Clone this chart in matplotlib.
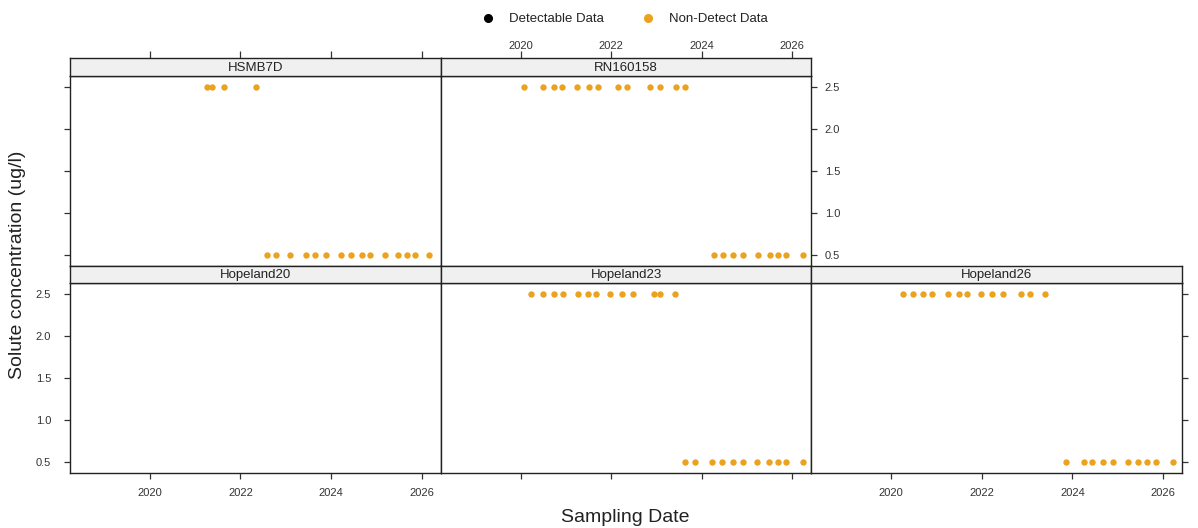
import matplotlib
matplotlib.use('Agg')
import matplotlib.pyplot as plt
from matplotlib.lines import Line2D

plt.rcParams['font.family'] = ['Liberation Sans', 'DejaVu Sans']

# sampling dates (decimal years) and concentrations (ug/l) per well
hsmb7d_t = [2021.26, 2021.37, 2021.64, 2022.35,
            2022.59, 2022.79, 2023.09, 2023.44, 2023.64, 2023.88, 2024.23, 2024.43,
            2024.68, 2024.87, 2025.19, 2025.48, 2025.67, 2025.85, 2026.16]
hsmb7d_c = [2.5] * 4 + [0.5] * 15

rn160158_t = [2020.07, 2020.49, 2020.73, 2020.91, 2021.25, 2021.52, 2021.70, 2022.15,
              2022.35, 2022.86, 2023.07, 2023.44, 2023.64,
              2024.26, 2024.47, 2024.69, 2024.91, 2025.24, 2025.50, 2025.69, 2025.87, 2026.24]
rn160158_c = [2.5] * 13 + [0.5] * 9

hopeland20_t = []
hopeland20_c = []

hopeland23_t = [2020.23, 2020.49, 2020.73, 2020.94, 2021.27, 2021.48, 2021.67, 2021.98,
                2022.23, 2022.49, 2022.94, 2023.07, 2023.40,
                2023.64, 2023.86, 2024.23, 2024.45, 2024.68, 2024.90, 2025.23, 2025.48,
                2025.69, 2025.85, 2026.24]
hopeland23_c = [2.5] * 13 + [0.5] * 11

hopeland26_t = [2020.25, 2020.48, 2020.71, 2020.91, 2021.25, 2021.50, 2021.68, 2021.98,
                2022.22, 2022.46, 2022.86, 2023.06, 2023.39,
                2023.86, 2024.25, 2024.43, 2024.68, 2024.90, 2025.23, 2025.45, 2025.65,
                2025.85, 2026.22]
hopeland26_c = [2.5] * 13 + [0.5] * 10

x_ticks = [2020, 2022, 2024, 2026]
y_ticks = [0.5, 1.0, 1.5, 2.0, 2.5]

ND_COL = '#EBA21E'
EDGE = '#222222'
TXT = '#333333'
XLIM = (2018.237, 2026.42)
W, H = 1198, 528

fig = plt.figure(figsize=(W / 100, H / 100), dpi=100)


def px_axes(x0, y0, x1, y1):
    return fig.add_axes([x0 / W, 1 - y1 / H, (x1 - x0) / W, (y1 - y0) / H])


col_x = [70, 440.7, 811.4, 1182]
rows = [(58.3, 75.7, 265.7), (266, 283, 473.3)]


def panel(row, col, name, t, c, left=None, right=None, top=None, bottom=None):
    strip_top, strip_bot, pan_bot = rows[row]
    x0, x1 = col_x[col], col_x[col + 1]
    ax = px_axes(x0, strip_bot, x1, pan_bot)
    ax.plot(t, c, 'o', color=ND_COL, markersize=4.6, markeredgewidth=0, clip_on=False)
    ax.set_xlim(*XLIM)
    ax.set_ylim(0.37, 2.63)
    ax.set_xticks(x_ticks)
    ax.set_xticklabels([str(v) for v in x_ticks])
    ax.set_yticks(y_ticks)
    ax.set_yticklabels([f'{v:.1f}' for v in y_ticks])
    ax.tick_params(direction='out', length=4.5, width=0.9, color=TXT,
                   labelsize=8, labelcolor=TXT, top=False, labeltop=False,
                   left=left is not None, labelleft=left == 'lab',
                   right=right is not None, labelright=right == 'lab',
                   bottom=bottom is not None, labelbottom=bottom == 'lab')
    ax.tick_params(axis='y', pad=5 if right == 'lab' else 9)
    ax.tick_params(axis='x', pad=6)
    for s in ax.spines.values():
        s.set_linewidth(1.0)
        s.set_color(EDGE)

    # strip with the well name; top axis of the first row hangs off it
    st = px_axes(x0, strip_top, x1, strip_bot)
    st.set_facecolor('#F0F0F0')
    st.set_xlim(*XLIM)
    st.set_yticks([])
    st.set_xticks(x_ticks)
    st.set_xticklabels([str(v) for v in x_ticks])
    st.tick_params(axis='x', bottom=False, labelbottom=False,
                   top=top is not None, labeltop=top == 'lab',
                   direction='out', length=5, width=0.9, color=TXT,
                   labelsize=8, labelcolor=TXT, pad=0)
    for s in st.spines.values():
        s.set_linewidth(1.0)
        s.set_color(EDGE)
    st.text(0.5, 0.45, name, ha='center', va='center', fontsize=9.5,
            color=EDGE, transform=st.transAxes)
    return ax


panel(0, 0, 'HSMB7D', hsmb7d_t, hsmb7d_c, left='tick', top='tick')
panel(0, 1, 'RN160158', rn160158_t, rn160158_c, right='lab', top='lab')
panel(1, 0, 'Hopeland20', hopeland20_t, hopeland20_c, left='lab', bottom='lab')
panel(1, 1, 'Hopeland23', hopeland23_t, hopeland23_c, bottom='tick')
panel(1, 2, 'Hopeland26', hopeland26_t, hopeland26_c, right='tick', bottom='lab')

fig.text(18 / W, 1 - 265 / H, 'Solute concentration (ug/l)', rotation=90,
         ha='center', va='center', fontsize=14, color=EDGE)
fig.text(625 / W, 1 - 517 / H, 'Sampling Date', ha='center', va='center',
         fontsize=14, color=EDGE)

handles = [Line2D([], [], marker='o', linestyle='', color='black', markersize=5.5),
           Line2D([], [], marker='o', linestyle='', color=ND_COL, markersize=5.5)]
fig.legend(handles, ['Detectable Data', 'Non-Detect Data'], loc='center',
           bbox_to_anchor=(624.5 / W, 1 - 19 / H), ncol=2, frameon=False,
           fontsize=9.5, handlelength=1.0, handletextpad=1.1, columnspacing=2.85,
           labelcolor=EDGE)

fig.savefig('out.png', dpi=100)
